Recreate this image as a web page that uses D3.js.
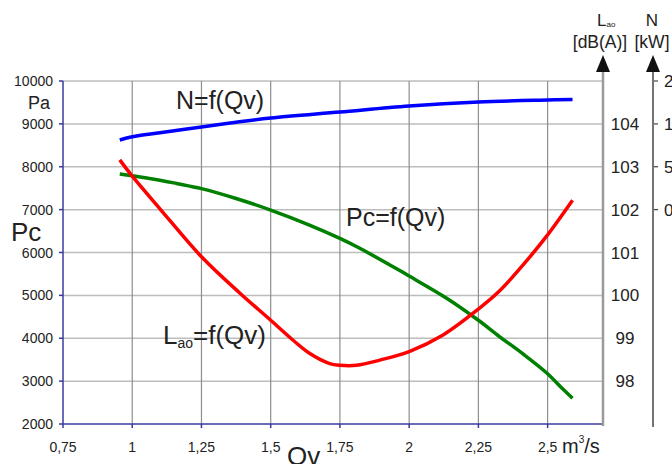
<!DOCTYPE html>
<html>
<head>
<meta charset="utf-8">
<script src="https://cdn.jsdelivr.net/npm/d3@7"></script>
<style>
  body { margin: 0; background: #fff; }
  svg { display: block; font-family: "Liberation Sans", Arial, sans-serif; }
  text { fill: #222; }
</style>
</head>
<body>
<svg id="chart" width="672" height="464"></svg>
<script>
// Flow rate Qv [m3/s] ticks
const qvTicks = [0.75, 1, 1.25, 1.5, 1.75, 2, 2.25, 2.5];
const qvTickLabels = ["0,75", "1", "1,25", "1,5", "1,75", "2", "2,25", "2,5"];
// Pressure Pc [Pa] ticks
const pcTicks = [2000, 3000, 4000, 5000, 6000, 7000, 8000, 9000, 10000];
// Sound level Lao [dB(A)] ticks
const laoTicks = [98, 99, 100, 101, 102, 103, 104];
// Power N [kW] ticks (labels cut by the page edge)
const nTicks = [0, 5, 10, 20];

// Pc = f(Qv)
const pcQv = [0.955, 1.0, 1.1, 1.16, 1.25, 1.375, 1.5, 1.64, 1.75, 1.82, 1.966, 2.0, 2.134, 2.25, 2.326, 2.41, 2.495, 2.556, 2.59];
const pcVal = [7830, 7790, 7685, 7610, 7490, 7260, 6990, 6641, 6330, 6105, 5578, 5450, 4940, 4420, 4040, 3640, 3200, 2810, 2600];

// Lao = f(Qv)
const laoQv = [0.955, 1.0, 1.1, 1.25, 1.389, 1.5, 1.58, 1.64, 1.713, 1.75, 1.81, 1.894, 2.0, 2.121, 2.25, 2.326, 2.41, 2.495, 2.59];
const laoVal = [103.16, 102.78, 102.02, 100.9, 100.05, 99.42, 98.96, 98.65, 98.41, 98.37, 98.37, 98.49, 98.69, 99.07, 99.68, 100.1, 100.7, 101.37, 102.22];

// N = f(Qv)
const nQv = [0.955, 1.0, 1.1, 1.25, 1.375, 1.5, 1.75, 2.0, 2.25, 2.5, 2.59];
const nVal = [8.12, 8.5, 8.97, 9.64, 10.37, 11.37, 12.77, 14.17, 15.1, 15.57, 15.7];

const svg = d3.select("#chart");

const x = d3.scaleLinear().domain([0.75, 2.7]).range([63, 603]);
const y = d3.scaleLinear().domain([2000, 10000]).range([424, 81]);
const yLao = d3.scaleLinear().domain([97, 105]).range([424, 81]);
const yN = d3.scaleLinear().domain(nTicks).range([y(7000), y(8000), y(9000), y(10000)]);

const axisBlue = "#3a3a9e";

// grid
svg.append("g").selectAll("line")
  .data(pcTicks.filter(d => d > 2000))
  .join("line")
  .attr("x1", x(0.75)).attr("x2", x(2.7))
  .attr("y1", d => y(d)).attr("y2", d => y(d))
  .attr("stroke", "#bdbdbd").attr("stroke-width", 1.5);

svg.append("g").selectAll("line")
  .data(qvTicks.filter(d => d > 0.75))
  .join("line")
  .attr("x1", d => x(d)).attr("x2", d => x(d))
  .attr("y1", y(10000)).attr("y2", y(2000))
  .attr("stroke", "#8e8e8e").attr("stroke-width", 1.2);

// left axis
svg.append("line")
  .attr("x1", x(0.75)).attr("x2", x(0.75))
  .attr("y1", y(10000)).attr("y2", y(2000))
  .attr("stroke", axisBlue).attr("stroke-width", 1.5);
svg.append("g").selectAll("line")
  .data(pcTicks).join("line")
  .attr("x1", x(0.75) - 4).attr("x2", x(0.75))
  .attr("y1", d => y(d)).attr("y2", d => y(d))
  .attr("stroke", axisBlue).attr("stroke-width", 1.5);
svg.append("g").selectAll("text")
  .data(pcTicks).join("text")
  .attr("x", 53).attr("y", d => y(d) + 5)
  .attr("text-anchor", "end").attr("font-size", 14)
  .text(d => d);

// bottom axis
svg.append("line")
  .attr("x1", x(0.75)).attr("x2", x(2.7))
  .attr("y1", y(2000)).attr("y2", y(2000))
  .attr("stroke", axisBlue).attr("stroke-width", 1.5);
svg.append("g").selectAll("line")
  .data(qvTicks).join("line")
  .attr("x1", d => x(d)).attr("x2", d => x(d))
  .attr("y1", y(2000)).attr("y2", y(2000) + 4)
  .attr("stroke", axisBlue).attr("stroke-width", 1.5);
svg.append("g").selectAll("text")
  .data(qvTicks).join("text")
  .attr("x", d => x(d)).attr("y", 452)
  .attr("text-anchor", "middle").attr("font-size", 14)
  .text((d, i) => qvTickLabels[i]);

// right Lao axis (grey, with arrow)
const laoX = x(2.7);
svg.append("line")
  .attr("x1", laoX).attr("x2", laoX).attr("y1", 68).attr("y2", 426)
  .attr("stroke", "#9a9a9a").attr("stroke-width", 2.5);
svg.append("path")
  .attr("d", `M${laoX},55 L${laoX - 7},72 L${laoX + 7},72 Z`)
  .attr("fill", "#111");
svg.append("g").selectAll("text")
  .data(laoTicks).join("text")
  .attr("x", 625).attr("y", d => yLao(d) + 6)
  .attr("text-anchor", "middle").attr("font-size", 17)
  .text(d => d);

// N axis
const nX = 653;
svg.append("line")
  .attr("x1", nX).attr("x2", nX).attr("y1", 68).attr("y2", 427)
  .attr("stroke", "#444").attr("stroke-width", 1.5);
svg.append("path")
  .attr("d", `M${nX},55 L${nX - 7},72 L${nX + 7},72 Z`)
  .attr("fill", "#111");
svg.append("g").selectAll("line")
  .data(nTicks).join("line")
  .attr("x1", nX + 1).attr("x2", nX + 5)
  .attr("y1", d => yN(d)).attr("y2", d => yN(d))
  .attr("stroke", "#444").attr("stroke-width", 1.2);
svg.append("g").selectAll("text")
  .data(nTicks).join("text")
  .attr("x", 664).attr("y", d => yN(d) + 6)
  .attr("font-size", 17)
  .text(d => d);

// axis headers
const hLao = svg.append("text").attr("x", 597).attr("y", 26).attr("font-size", 17);
hLao.append("tspan").text("L");
hLao.append("tspan").attr("font-size", 8).attr("dy", 1).text("ao");
svg.append("text").attr("x", 600).attr("y", 48).attr("text-anchor", "middle")
  .attr("font-size", 17.5).text("[dB(A)]");
svg.append("text").attr("x", 652).attr("y", 26).attr("text-anchor", "middle")
  .attr("font-size", 17).text("N");
svg.append("text").attr("x", 652).attr("y", 48).attr("text-anchor", "middle")
  .attr("font-size", 17.5).text("[kW]");

// axis titles
svg.append("text").attr("x", 11).attr("y", 241).attr("font-size", 26).text("Pc");
svg.append("text").attr("x", 28).attr("y", 109).attr("font-size", 18).text("Pa");
svg.append("text").attr("x", 287).attr("y", 465).attr("font-size", 26).text("Qv");
const unit = svg.append("text").attr("x", 562).attr("y", 453).attr("font-size", 20);
unit.append("tspan").text("m");
unit.append("tspan").attr("font-size", 10).attr("dy", -10).text("3");
unit.append("tspan").attr("dy", 10).text("/s");

// curves
const line = d3.line().curve(d3.curveCatmullRom.alpha(0.5));

svg.append("path")
  .attr("d", line(nQv.map((q, i) => [x(q), yN(nVal[i])])))
  .attr("fill", "none").attr("stroke", "#0000ff").attr("stroke-width", 3.5);

svg.append("path")
  .attr("d", line(pcQv.map((q, i) => [x(q), y(pcVal[i])])))
  .attr("fill", "none").attr("stroke", "#008000").attr("stroke-width", 3.5);

svg.append("path")
  .attr("d", line(laoQv.map((q, i) => [x(q), yLao(laoVal[i])])))
  .attr("fill", "none").attr("stroke", "#ff0000").attr("stroke-width", 3.5);

// curve labels
svg.append("text").attr("x", 176).attr("y", 109).attr("font-size", 25).text("N=f(Qv)");
svg.append("text").attr("x", 346).attr("y", 226).attr("font-size", 25).text("Pc=f(Qv)");
const lLab = svg.append("text").attr("x", 163).attr("y", 344).attr("font-size", 26);
lLab.append("tspan").text("L");
lLab.append("tspan").attr("font-size", 14).attr("dy", 4).text("ao");
lLab.append("tspan").attr("dy", -4).text("=f(Qv)");
</script>
</body>
</html>
